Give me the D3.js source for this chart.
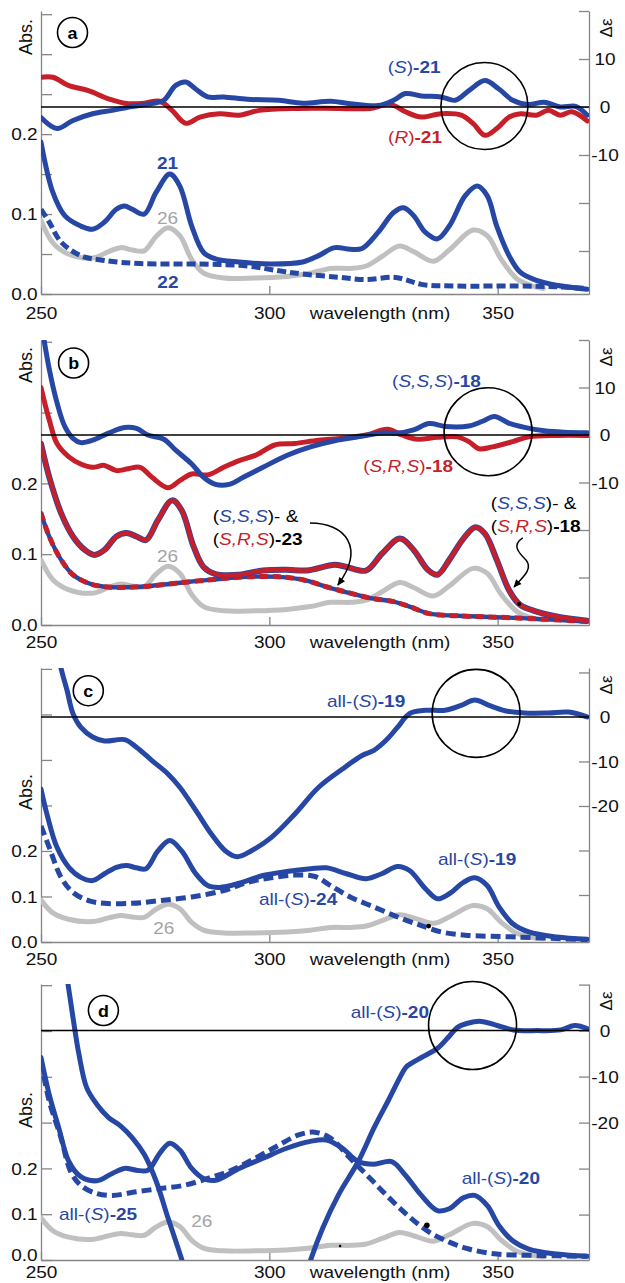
<!DOCTYPE html>
<html><head><meta charset="utf-8">
<script src="https://cdn.jsdelivr.net/npm/d3@7"></script>
<style>
body{margin:0;background:#fff}
svg{display:block}
text{font-family:"Liberation Sans",Arial,Helvetica,sans-serif}
</style>
</head><body>
<svg id="chart" width="625" height="1283"></svg>
<script>
// ---------------- DATA (wavelength nm, value) ----------------
const xTicks = [250, 300, 350];

// UV of reference compound 26 (same in every panel)
const uv26 = [[250,0.092],[252.6,0.064],[256,0.05],[261.3,0.045],[264.8,0.053],[267.4,0.058],[270,0.055],[272.6,0.054],[275.2,0.072],[277.8,0.083],[280.4,0.073],[283,0.043],[285.6,0.026],[290,0.02],[296.9,0.02],[303.8,0.022],[309,0.026],[313.4,0.032],[317.7,0.032],[321.2,0.035],[324.7,0.047],[328.5,0.06],[331.6,0.053],[335.9,0.041],[339.4,0.055],[344.6,0.08],[347.7,0.073],[350.7,0.044],[354.2,0.019],[357.5,0.01],[360,0.007]];

// panel a
const a_uv21 = [[250,0.19],[252.6,0.127],[255.2,0.098],[258.7,0.085],[261.3,0.081],[263.9,0.09],[266.5,0.106],[268.3,0.11],[270,0.106],[272.6,0.1],[275.2,0.127],[278.2,0.15],[280.4,0.135],[283,0.085],[285.6,0.052],[288.2,0.044],[293.4,0.04],[300.4,0.0375],[307.3,0.04],[310.8,0.048],[314.3,0.058],[317.7,0.056],[320.3,0.057],[323.8,0.077],[327.2,0.102],[329.4,0.108],[331.6,0.098],[334.2,0.077],[336.8,0.069],[339.4,0.085],[342.9,0.123],[345.5,0.135],[347.7,0.123],[349.8,0.085],[352.5,0.048],[355,0.027],[358.5,0.017],[362.9,0.011],[369.6,0.006]];
const a_uv22 = [[250,0.106],[251.8,0.09],[254.4,0.065],[258.7,0.048],[263.9,0.042],[271.7,0.038],[284.7,0.0375],[295.2,0.035],[302.1,0.029],[307.3,0.025],[315.1,0.021],[321.2,0.018],[327.2,0.021],[329.8,0.018],[333.3,0.012],[341.1,0.01],[354.2,0.01],[362.9,0.009],[369.6,0.007]];
const a_cdS21 = [[250,-2.2],[253.5,-4.5],[257,-2.8],[261.3,-1.4],[265.6,-0.7],[270,0.1],[274.3,0.7],[276.9,1.4],[279.5,4.5],[281.7,5.2],[283.8,3.8],[286.5,2.1],[290,2.1],[295.2,1.6],[302.1,1.4],[307.3,0.8],[313.4,1.2],[317.7,0.7],[323.8,0.3],[327.2,1.4],[329.8,2.8],[333.3,2.3],[337.6,2.1],[340.7,1.4],[343.7,3.4],[347.2,5.5],[350.2,3.8],[353.3,1.4],[356.7,0.5],[360.2,1.0],[363.7,0],[367.2,0.1],[369.6,-1.7]];
const a_cdR21 = [[250,6.2],[252.6,6.2],[256,4.5],[260.4,3.4],[264.8,1.7],[269.1,0.7],[272.6,0.8],[276,1.2],[278.7,-0.7],[281.7,-3.4],[284.8,-2.1],[289.1,-1.4],[293.4,-1.7],[297.8,-0.7],[306.4,-0.3],[315.1,-0.3],[322.1,-0.3],[326.4,0.6],[329.8,-1.0],[333.3,-2.1],[337.6,-1.4],[342,-1.7],[344.6,-3.4],[347.2,-5.9],[349.8,-4.5],[352.5,-2.1],[355,-1.4],[358.5,-1.7],[361.1,-0.7],[363.7,-1.7],[366.3,-1.0],[369.6,-2.9]];

// panel b
const b_uv18 = [[250,0.256],[251.8,0.209],[254.4,0.158],[257,0.125],[259.6,0.106],[261.7,0.099],[263.9,0.106],[266.5,0.125],[268.7,0.13],[270.9,0.125],[273,0.12],[275.6,0.148],[278.7,0.176],[280.8,0.162],[283.4,0.111],[285.6,0.082],[288.2,0.072],[293.4,0.071],[298.6,0.077],[303.8,0.078],[308.2,0.077],[314.3,0.085],[316.9,0.082],[321.2,0.077],[324.7,0.101],[328.6,0.122],[331.6,0.106],[334.7,0.078],[336.8,0.071],[339.4,0.092],[342.5,0.122],[345.1,0.138],[347.2,0.129],[349.8,0.092],[352.5,0.049],[355,0.028],[358.5,0.019],[362.9,0.012],[369.6,0.006]];
const b_uv23 = [[250,0.158],[251.8,0.125],[254.4,0.092],[257,0.071],[260.4,0.059],[263.9,0.054],[271.7,0.054],[279.5,0.059],[287.3,0.064],[295.1,0.068],[302.1,0.068],[307.3,0.064],[312.5,0.054],[317.7,0.045],[322.1,0.038],[327.2,0.033],[330.7,0.026],[335,0.016],[341.1,0.013],[354.2,0.01],[369.6,0.005]];
const b_cdSSS18 = [[250,24],[251.8,13.9],[253.5,6.8],[255.2,1.8],[257,-0.7],[258.7,-1.6],[261.3,-1.1],[264.8,0.4],[268.3,1.6],[270.9,1.4],[273.4,0],[276.9,-0.9],[279.5,-3.2],[283,-6.1],[285.6,-8.9],[288.2,-10.4],[291.2,-10.4],[294.3,-8.9],[298.6,-6.8],[303.8,-4.3],[309,-2.5],[314.3,-1.2],[319.4,-0.4],[324.7,0.4],[328.1,0.4],[331.6,1.1],[335,2.4],[338.5,1.8],[343.7,1.9],[346.7,2.9],[349.3,3.9],[352.4,2.5],[355.9,1.6],[360.2,0.9],[364.5,0.6],[369.6,0.5]];
const b_cdSRS18 = [[250,10],[251.8,3.2],[253.5,-1.8],[256.1,-4.6],[258.7,-6.1],[261.3,-6.8],[263.9,-6.4],[266.5,-7.5],[269.1,-7.1],[271.7,-6.8],[274.3,-8.9],[277.8,-11.1],[280.4,-9.6],[283,-8.2],[286.5,-8.4],[290,-6.8],[293.4,-5.4],[296.9,-4.3],[301.2,-2.1],[305.5,-1.8],[310.8,-1.1],[316,-0.7],[321.2,0],[325.9,1.2],[329,0],[332.5,-0.9],[336.8,-0.5],[341.1,-0.4],[343.7,-1.4],[345.9,-2.9],[348.9,-2.5],[353.3,-1.4],[356.8,-0.4],[362.9,-0.1],[369.6,-0.1]];

// panel c
const c_uv19 = [[250,0.336],[251.3,0.281],[253.5,0.208],[256.1,0.164],[258.7,0.142],[261.3,0.135],[263.9,0.15],[266.5,0.164],[268.7,0.168],[270.9,0.163],[273,0.161],[275.6,0.2],[278.2,0.223],[280.8,0.2],[283.9,0.15],[286.5,0.124],[289.1,0.12],[293.4,0.129],[298.6,0.146],[303.8,0.155],[309,0.161],[312.5,0.163],[316.9,0.15],[321.2,0.139],[324.6,0.15],[328.1,0.166],[330.7,0.157],[334.2,0.117],[336.8,0.095],[339.4,0.106],[342.5,0.131],[345,0.141],[347.7,0.124],[350.3,0.077],[353.3,0.04],[356.8,0.022],[362.9,0.011],[369.6,0.006]];
const c_uv24 = [[250,0.255],[251.8,0.208],[254.4,0.142],[257,0.109],[260.4,0.091],[263.9,0.085],[270,0.085],[276.1,0.091],[283,0.099],[290,0.113],[295.2,0.131],[300.4,0.141],[305.6,0.147],[309.9,0.144],[313.4,0.124],[317.7,0.099],[322.9,0.077],[328.1,0.055],[333.3,0.036],[337.7,0.022],[342.9,0.015],[354.2,0.011],[369.6,0.005]];
const c_cd19 = [[253.5,16],[254.4,10.9],[255.7,6],[257,0.75],[258.7,-2.3],[261.3,-4.5],[263.9,-5.4],[268.3,-5.1],[270.9,-6.8],[274.3,-9.8],[277.8,-12.8],[280.4,-15.8],[283.9,-21],[287.3,-26.3],[290.4,-30.1],[293,-31.4],[296,-30.1],[300.4,-27.1],[305.6,-21.8],[310.8,-15.8],[316,-11.7],[320.4,-8.6],[322.9,-7.5],[325.5,-5.3],[328.1,-2.3],[330.7,0.75],[334.2,1.5],[338.5,1.5],[342,2.6],[345,3.8],[348.1,2.6],[351.6,1.4],[355.9,0.9],[361.1,0.9],[365.5,1.1],[369.6,0]];

// panel d
const d_uv20 = [[250,0.442],[251.8,0.361],[253.9,0.288],[256.1,0.215],[258.7,0.182],[262.2,0.173],[265.6,0.189],[268.3,0.2],[270.9,0.196],[273.4,0.196],[276,0.233],[278.2,0.255],[280.4,0.24],[283,0.2],[285.6,0.178],[288.2,0.174],[293.4,0.2],[298.6,0.222],[303.8,0.244],[309,0.259],[312.5,0.262],[316,0.244],[319.4,0.215],[322.9,0.209],[326.8,0.215],[329.8,0.185],[333.3,0.141],[336.8,0.108],[339.4,0.112],[342.5,0.136],[345,0.141],[347.7,0.119],[350.3,0.075],[353.3,0.042],[356.8,0.024],[362.9,0.013],[369.6,0.008]];
const d_uv25 = [[250,0.434],[251.8,0.347],[254.4,0.266],[256.5,0.193],[258.7,0.163],[262.2,0.145],[265.6,0.141],[270.9,0.149],[276,0.156],[281.3,0.163],[286.5,0.178],[291.7,0.196],[296.9,0.222],[302.1,0.251],[306.4,0.273],[309.9,0.279],[313.4,0.266],[317.7,0.222],[322.1,0.178],[326.4,0.134],[330.7,0.094],[335,0.061],[339.4,0.039],[343.7,0.024],[349.8,0.013],[358.5,0.01],[369.6,0.008]];
const d_cd20 = [[255.5,13],[255.9,10.2],[257,2.9],[258.3,-5.1],[260,-12.4],[262.2,-16],[264.8,-18.9],[267.4,-20.7],[270,-23.3],[272.6,-26.9],[275.2,-32.7],[277.8,-40.7],[280.8,-49.7],[282,-54],[295,null],[307.8,-54],[309.1,-49.7],[311.7,-42.9],[315.2,-35.6],[319.5,-28.4],[323,-21],[326,-15.3],[329.9,-8],[330.8,-7.3],[333.4,-5.8],[336.9,-3.8],[339.5,-1.1],[341.2,0.7],[343.4,1.6],[346.4,2.0],[349.9,1.1],[353.4,0.15],[358.6,0],[363.8,0.15],[366.9,1.1],[369.7,0.4]];

// ---------------- STYLE ----------------
const BLUE = '#2747a5', RED = '#c61f29', GREY = '#c0c0c0', GREYTXT = '#a4a4a4', AXIS = '#858585';
const SX = 1.12; // horizontal text stretch seen in the reference
const LW = 5;

const svg = d3.select('#chart');
const X = d3.scaleLinear().domain([250, 370]).range([41, 589]);

const panels = [
  {key:'a', top:11, bottom:294, absMax:0.354, absTicks:d3.range(0,0.3501,0.05), absLabels:[0,0.1,0.2],
   cd:[-38.96,20], cdTicks:[20,10,0,-10,-20,-30], cdLabels:[10,0,-10], letter:[72.5,32.5], absY:37, dash:'9,4',
   circle:[347.1,0.2,43.5], tdy:19, zeroDy:0},
  {key:'b', top:340, bottom:625, absMax:0.4025, absTicks:d3.range(0,0.4001,0.1), absLabels:[0,0.1,0.2],
   cd:[-40,20], cdTicks:[20,10,0,-10,-20,-30], cdLabels:[10,0,-10], letter:[73.6,363], absY:365, dash:'8,5',
   circle:[347.9,0.7,44], tdy:17, zeroDy:0},
  {key:'c', top:668, bottom:942, absMax:0.602, absTicks:d3.range(0,0.6001,0.1), absLabels:[0,0.1,0.2],
   cd:[-50.56,11], cdTicks:[10,0,-10,-20,-30,-40], cdLabels:[0,-10,-20], letter:[88.3,690.7], absY:792, dash:'10,5',
   circle:[345.3,0.8,44], tdy:17, zeroDy:0},
  {key:'d', top:984, bottom:1260, absMax:0.6026, absTicks:d3.range(0,0.6001,0.1), absLabels:[0,0.1,0.2],
   cd:[-49.87,10.13], cdTicks:[10,0,-10,-20,-30,-40], cdLabels:[0,-10,-20], letter:[103.4,1010.5], absY:1110, dash:'10,5',
   circle:[344.5,1.1,44], tdy:12.5, zeroDy:-5}
];

const Rg = (t,c) => ({t, c}), It = (t,c) => ({t, c, i:true}), Bd = (t,c) => ({t, c, b:true});

const series = {
  a: [
    {data:uv26, ax:'abs', color:GREY},
    {data:a_uv22, ax:'abs', color:BLUE, dash:true},
    {data:a_uv21, ax:'abs', color:BLUE},
    {data:a_cdR21, ax:'cd', color:RED},
    {data:a_cdS21, ax:'cd', color:BLUE}
  ],
  b: [
    {data:uv26, ax:'abs', color:GREY},
    {data:b_uv23, ax:'abs', color:BLUE, w:4.4},
    {data:b_uv23, ax:'abs', color:RED, dash:true, w:5},
    {data:b_uv18, ax:'abs', color:BLUE, w:6},
    {data:b_uv18, ax:'abs', color:RED, w:4.4},
    {data:b_cdSRS18, ax:'cd', color:RED},
    {data:b_cdSSS18, ax:'cd', color:BLUE}
  ],
  c: [
    {data:uv26, ax:'abs', color:GREY},
    {data:c_uv19, ax:'abs', color:BLUE},
    {data:c_uv24, ax:'abs', color:BLUE, dash:true},
    {data:c_cd19, ax:'cd', color:BLUE}
  ],
  d: [
    {data:uv26, ax:'abs', color:GREY},
    {data:d_uv20, ax:'abs', color:BLUE},
    {data:d_uv25, ax:'abs', color:BLUE, dash:true},
    {data:d_cd20, ax:'cd', color:BLUE}
  ]
};

const notes = {
  a: [
    {ax:'cd', x:331.7, y:8.3, parts:[Rg('(',BLUE),It('S',BLUE),Rg(')',BLUE),Bd('-21',BLUE)]},
    {ax:'cd', x:331.9, y:-6.25, parts:[Rg('(',RED),It('R',RED),Rg(')',RED),Bd('-21',RED)]},
    {ax:'abs', x:277.7, y:0.164, parts:[Bd('21',BLUE)]},
    {ax:'abs', x:277.7, y:0.095, parts:[Rg('26',GREYTXT)]},
    {ax:'abs', x:277.8, y:0.015, parts:[Bd('22',BLUE)]}
  ],
  b: [
    {ax:'cd', x:336.6, y:11.2, parts:[Rg('(',BLUE),It('S,S,S',BLUE),Rg(')',BLUE),Bd('-18',BLUE)]},
    {ax:'cd', x:330.4, y:-6.7, parts:[Rg('(',RED),It('S,R,S',RED),Rg(')',RED),Bd('-18',RED)]},
    {ax:'abs', x:287.6, y:0.153, anchor:'start', parts:[Rg('('),It('S,S,S',BLUE),Rg(')- &')]},
    {ax:'abs', x:287.6, y:0.121, anchor:'start', parts:[Rg('('),It('S,R,S',RED),Rg(')'),Bd('-23')]},
    {ax:'abs', x:348.5, y:0.172, anchor:'start', parts:[Rg('('),It('S,S,S',BLUE),Rg(')- &')]},
    {ax:'abs', x:348.5, y:0.14, anchor:'start', parts:[Rg('('),It('S,R,S',RED),Rg(')'),Bd('-18')]},
    {ax:'abs', x:277.7, y:0.0975, parts:[Rg('26',GREYTXT)]}
  ],
  c: [
    {ax:'cd', x:321.2, y:3.4, parts:[Rg('all-(',BLUE),It('S',BLUE),Rg(')',BLUE),Bd('-19',BLUE)]},
    {ax:'abs', x:345.5, y:0.182, parts:[Rg('all-(',BLUE),It('S',BLUE),Rg(')',BLUE),Bd('-19',BLUE)]},
    {ax:'abs', x:306.3, y:0.0945, parts:[Rg('all-(',BLUE),It('S',BLUE),Rg(')',BLUE),Bd('-24',BLUE)]},
    {ax:'abs', x:276.9, y:0.031, parts:[Rg('26',GREYTXT)]}
  ],
  d: [
    {ax:'cd', x:326.4, y:4.0, parts:[Rg('all-(',BLUE),It('S',BLUE),Rg(')',BLUE),Bd('-20',BLUE)]},
    {ax:'abs', x:350.7, y:0.179, parts:[Rg('all-(',BLUE),It('S',BLUE),Rg(')',BLUE),Bd('-20',BLUE)]},
    {ax:'abs', x:262.5, y:0.1004, parts:[Rg('all-(',BLUE),It('S',BLUE),Rg(')',BLUE),Bd('-25',BLUE)]},
    {ax:'abs', x:285.2, y:0.085, parts:[Rg('26',GREYTXT)]}
  ]
};

// arrows (panel b) in data coordinates [wavelength, Abs]
const arrows = {
  b: [
    [[308.9,0.144],[316.8,0.144],[321,0.109],[315,0.0565]],
    [[355.5,0.1229],[353.1,0.113],[354.45,0.103],[356.2,0.0918],[357.9,0.079],[355.3,0.0664],[353.6,0.0537]]
  ]
};
// small black dots [wavelength, Abs, radius]
const dots = {
  b: [[354.7,0.0297,2]],
  c: [[334.9,0.035,2.4]],
  d: [[334.5,0.076,2.8],[315.5,0.0306,1.3]]
};

// arrowhead marker
svg.append('defs').append('marker').attr('id','ah').attr('viewBox','0 -5 10 10')
  .attr('refX',9).attr('refY',0).attr('markerWidth',9).attr('markerHeight',8)
  .attr('markerUnits','userSpaceOnUse').attr('orient','auto')
  .append('path').attr('d','M0,-4.5L10,0L0,4.5Z').attr('fill','#000');

function addText(g, x, y, parts, anchor, size, sx) {
  const t = g.append('text')
    .attr('transform', `translate(${x},${y}) scale(${sx},1)`)
    .attr('text-anchor', anchor || 'middle')
    .attr('dominant-baseline', 'central')
    .attr('font-size', size);
  parts.forEach(p => {
    t.append('tspan').text(p.t).attr('fill', p.c || '#000')
      .attr('font-style', p.i ? 'italic' : null)
      .attr('font-weight', p.b ? 'bold' : null);
  });
  return t;
}

panels.forEach(cfg => {
  const g = svg.append('g');
  const yA = d3.scaleLinear().domain([0, cfg.absMax]).range([cfg.bottom, cfg.top]);
  const yC = d3.scaleLinear().domain(cfg.cd).range([cfg.bottom, cfg.top]);
  const ys = ax => ax === 'cd' ? yC : yA;
  const near = (v, arr) => arr.some(a => Math.abs(a - v) < 1e-6);

  // axes
  const left = d3.axisLeft(yA).tickValues(cfg.absTicks).tickSize(-11).tickSizeOuter(0).tickPadding(3)
    .tickFormat(d => near(d, cfg.absLabels) ? d3.format('.1f')(d) : '');
  const right = d3.axisRight(yC).tickValues(cfg.cdTicks).tickSize(-10).tickSizeOuter(0)
    .tickFormat(d => near(d, cfg.cdLabels) ? String(d) : '');
  const bottom = d3.axisBottom(X).tickValues(xTicks).tickSize(-8).tickSizeOuter(0).tickFormat(d3.format('d'));

  const gl = g.append('g').attr('transform', `translate(${X.range()[0]},0)`).call(left);
  const gr = g.append('g').attr('transform', `translate(${X.range()[1]},0)`).call(right);
  const gb = g.append('g').attr('transform', `translate(0,${cfg.bottom})`).call(bottom);
  [gl, gr, gb].forEach(a => {
    a.attr('font-family', null).attr('font-size', 17);
    a.selectAll('path,line').attr('stroke', AXIS).attr('stroke-width', 1.3);
    a.selectAll('text').attr('fill', '#111');
  });
  gl.selectAll('text').attr('dy', null).attr('dominant-baseline', 'central')
    .attr('transform', d => `translate(0,${d === 0 ? cfg.zeroDy : 0}) scale(${SX},1)`);
  gr.selectAll('text').attr('dy', null).attr('dominant-baseline', 'central')
    .attr('text-anchor', 'middle').attr('x', 0)
    .attr('transform', `translate(16,0) scale(${SX},1)`);
  gb.selectAll('text').attr('dy', null).attr('y', 0).attr('dominant-baseline', 'central')
    .attr('transform', `translate(0,${cfg.tdy}) scale(${SX},1)`);

  addText(g, 380, cfg.bottom + cfg.tdy, [Rg('wavelength (nm)', '#111')], 'middle', 17, SX);

  // axis titles
  g.append('text').attr('transform', `translate(26,${cfg.absY}) rotate(-90)`)
    .attr('text-anchor', 'middle').attr('dominant-baseline', 'central')
    .attr('font-size', 18).attr('fill', '#111').text('Abs.');
  g.append('text').attr('transform', `translate(606,${cfg.top + 17}) rotate(-90)`)
    .attr('text-anchor', 'middle').attr('dominant-baseline', 'central')
    .attr('font-size', 17).attr('fill', '#111').text('Δε');

  // panel letter
  g.append('circle').attr('cx', cfg.letter[0]).attr('cy', cfg.letter[1]).attr('r', 15)
    .attr('fill', 'none').attr('stroke', '#000').attr('stroke-width', 1.6);
  addText(g, cfg.letter[0], cfg.letter[1] + 0.5, [Bd(cfg.key, '#000')], 'middle', 17, 1.05);

  // clip
  const cid = 'clip-' + cfg.key;
  svg.append('clipPath').attr('id', cid).append('rect')
    .attr('x', X.range()[0]).attr('y', cfg.top)
    .attr('width', X.range()[1] - X.range()[0]).attr('height', cfg.bottom - cfg.top);
  const plot = g.append('g').attr('clip-path', `url(#${cid})`);

  series[cfg.key].forEach(s => {
    const ln = d3.line().defined(d => d[1] != null)
      .x(d => X(d[0])).y(d => ys(s.ax)(d[1]))
      .curve(d3.curveCatmullRom.alpha(0.5));
    plot.append('path').datum(s.data).attr('d', ln)
      .attr('fill', 'none').attr('stroke', s.color).attr('stroke-width', s.w || LW)
      .attr('stroke-linejoin', 'round').attr('stroke-linecap', s.dash ? 'butt' : 'round')
      .attr('stroke-dasharray', s.dash ? cfg.dash : null);
  });

  // zero line of CD axis
  g.append('line').attr('x1', X.range()[0]).attr('x2', X.range()[1])
    .attr('y1', yC(0)).attr('y2', yC(0)).attr('stroke', '#000').attr('stroke-width', 1.5);

  // highlight circle
  g.append('circle').attr('cx', X(cfg.circle[0])).attr('cy', yC(cfg.circle[1])).attr('r', cfg.circle[2])
    .attr('fill', 'none').attr('stroke', '#000').attr('stroke-width', 1.6);

  // labels
  notes[cfg.key].forEach(n => {
    addText(g, X(n.x), ys(n.ax)(n.y), n.parts, n.anchor || 'middle', 17, SX);
  });

  // arrows
  (arrows[cfg.key] || []).forEach(pts => {
    const p = pts.map(d => [X(d[0]), yA(d[1])]);
    let d = `M${p[0]}`;
    for (let i = 1; i + 2 < p.length; i += 3) d += `C${p[i]} ${p[i+1]} ${p[i+2]}`;
    g.append('path').attr('d', d).attr('fill', 'none').attr('stroke', '#000')
      .attr('stroke-width', 1.5).attr('marker-end', 'url(#ah)');
  });

  (dots[cfg.key] || []).forEach(dt => {
    g.append('circle').attr('cx', X(dt[0])).attr('cy', yA(dt[1])).attr('r', dt[2]).attr('fill', '#000');
  });
});
</script>
</body></html>
